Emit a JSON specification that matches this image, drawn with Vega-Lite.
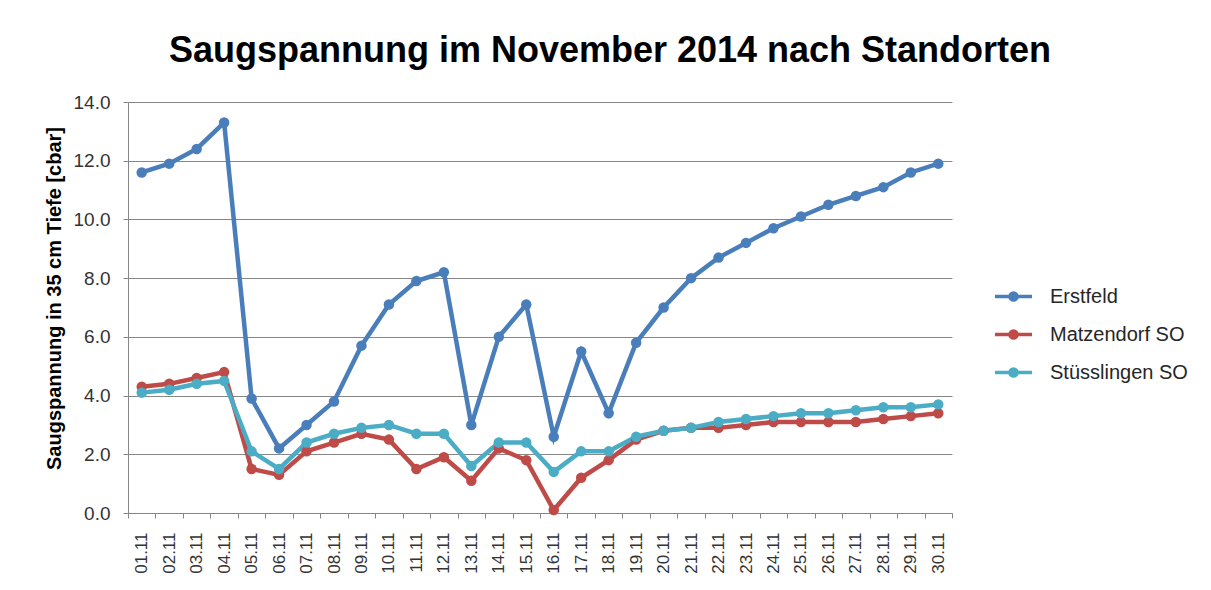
{
  "$schema": "https://vega.github.io/schema/vega-lite/v6.json",
  "autosize": "none",
  "width": 824,
  "height": 411,
  "padding": {"left": 128, "top": 102, "right": 259, "bottom": 77},
  "background": "white",
  "title": {
    "text": "Saugspannung im November 2014 nach Standorten",
    "font": "Liberation Sans",
    "fontSize": 36,
    "fontWeight": "bold",
    "color": "#000000",
    "anchor": "middle",
    "dx": 70,
    "dy": 35,
    "offset": 30,
    "baseline": "alphabetic"
  },
  "data": {
    "values": [
      {"date": "01.11", "station": "Erstfeld", "value": 11.6},
      {"date": "02.11", "station": "Erstfeld", "value": 11.9},
      {"date": "03.11", "station": "Erstfeld", "value": 12.4},
      {"date": "04.11", "station": "Erstfeld", "value": 13.3},
      {"date": "05.11", "station": "Erstfeld", "value": 3.9},
      {"date": "06.11", "station": "Erstfeld", "value": 2.2},
      {"date": "07.11", "station": "Erstfeld", "value": 3.0},
      {"date": "08.11", "station": "Erstfeld", "value": 3.8},
      {"date": "09.11", "station": "Erstfeld", "value": 5.7},
      {"date": "10.11", "station": "Erstfeld", "value": 7.1},
      {"date": "11.11", "station": "Erstfeld", "value": 7.9},
      {"date": "12.11", "station": "Erstfeld", "value": 8.2},
      {"date": "13.11", "station": "Erstfeld", "value": 3.0},
      {"date": "14.11", "station": "Erstfeld", "value": 6.0},
      {"date": "15.11", "station": "Erstfeld", "value": 7.1},
      {"date": "16.11", "station": "Erstfeld", "value": 2.6},
      {"date": "17.11", "station": "Erstfeld", "value": 5.5},
      {"date": "18.11", "station": "Erstfeld", "value": 3.4},
      {"date": "19.11", "station": "Erstfeld", "value": 5.8},
      {"date": "20.11", "station": "Erstfeld", "value": 7.0},
      {"date": "21.11", "station": "Erstfeld", "value": 8.0},
      {"date": "22.11", "station": "Erstfeld", "value": 8.7},
      {"date": "23.11", "station": "Erstfeld", "value": 9.2},
      {"date": "24.11", "station": "Erstfeld", "value": 9.7},
      {"date": "25.11", "station": "Erstfeld", "value": 10.1},
      {"date": "26.11", "station": "Erstfeld", "value": 10.5},
      {"date": "27.11", "station": "Erstfeld", "value": 10.8},
      {"date": "28.11", "station": "Erstfeld", "value": 11.1},
      {"date": "29.11", "station": "Erstfeld", "value": 11.6},
      {"date": "30.11", "station": "Erstfeld", "value": 11.9},
      {"date": "01.11", "station": "Matzendorf SO", "value": 4.3},
      {"date": "02.11", "station": "Matzendorf SO", "value": 4.4},
      {"date": "03.11", "station": "Matzendorf SO", "value": 4.6},
      {"date": "04.11", "station": "Matzendorf SO", "value": 4.8},
      {"date": "05.11", "station": "Matzendorf SO", "value": 1.5},
      {"date": "06.11", "station": "Matzendorf SO", "value": 1.3},
      {"date": "07.11", "station": "Matzendorf SO", "value": 2.1},
      {"date": "08.11", "station": "Matzendorf SO", "value": 2.4},
      {"date": "09.11", "station": "Matzendorf SO", "value": 2.7},
      {"date": "10.11", "station": "Matzendorf SO", "value": 2.5},
      {"date": "11.11", "station": "Matzendorf SO", "value": 1.5},
      {"date": "12.11", "station": "Matzendorf SO", "value": 1.9},
      {"date": "13.11", "station": "Matzendorf SO", "value": 1.1},
      {"date": "14.11", "station": "Matzendorf SO", "value": 2.2},
      {"date": "15.11", "station": "Matzendorf SO", "value": 1.8},
      {"date": "16.11", "station": "Matzendorf SO", "value": 0.1},
      {"date": "17.11", "station": "Matzendorf SO", "value": 1.2},
      {"date": "18.11", "station": "Matzendorf SO", "value": 1.8},
      {"date": "19.11", "station": "Matzendorf SO", "value": 2.5},
      {"date": "20.11", "station": "Matzendorf SO", "value": 2.8},
      {"date": "21.11", "station": "Matzendorf SO", "value": 2.9},
      {"date": "22.11", "station": "Matzendorf SO", "value": 2.9},
      {"date": "23.11", "station": "Matzendorf SO", "value": 3.0},
      {"date": "24.11", "station": "Matzendorf SO", "value": 3.1},
      {"date": "25.11", "station": "Matzendorf SO", "value": 3.1},
      {"date": "26.11", "station": "Matzendorf SO", "value": 3.1},
      {"date": "27.11", "station": "Matzendorf SO", "value": 3.1},
      {"date": "28.11", "station": "Matzendorf SO", "value": 3.2},
      {"date": "29.11", "station": "Matzendorf SO", "value": 3.3},
      {"date": "30.11", "station": "Matzendorf SO", "value": 3.4},
      {"date": "01.11", "station": "Stüsslingen SO", "value": 4.1},
      {"date": "02.11", "station": "Stüsslingen SO", "value": 4.2},
      {"date": "03.11", "station": "Stüsslingen SO", "value": 4.4},
      {"date": "04.11", "station": "Stüsslingen SO", "value": 4.5},
      {"date": "05.11", "station": "Stüsslingen SO", "value": 2.1},
      {"date": "06.11", "station": "Stüsslingen SO", "value": 1.5},
      {"date": "07.11", "station": "Stüsslingen SO", "value": 2.4},
      {"date": "08.11", "station": "Stüsslingen SO", "value": 2.7},
      {"date": "09.11", "station": "Stüsslingen SO", "value": 2.9},
      {"date": "10.11", "station": "Stüsslingen SO", "value": 3.0},
      {"date": "11.11", "station": "Stüsslingen SO", "value": 2.7},
      {"date": "12.11", "station": "Stüsslingen SO", "value": 2.7},
      {"date": "13.11", "station": "Stüsslingen SO", "value": 1.6},
      {"date": "14.11", "station": "Stüsslingen SO", "value": 2.4},
      {"date": "15.11", "station": "Stüsslingen SO", "value": 2.4},
      {"date": "16.11", "station": "Stüsslingen SO", "value": 1.4},
      {"date": "17.11", "station": "Stüsslingen SO", "value": 2.1},
      {"date": "18.11", "station": "Stüsslingen SO", "value": 2.1},
      {"date": "19.11", "station": "Stüsslingen SO", "value": 2.6},
      {"date": "20.11", "station": "Stüsslingen SO", "value": 2.8},
      {"date": "21.11", "station": "Stüsslingen SO", "value": 2.9},
      {"date": "22.11", "station": "Stüsslingen SO", "value": 3.1},
      {"date": "23.11", "station": "Stüsslingen SO", "value": 3.2},
      {"date": "24.11", "station": "Stüsslingen SO", "value": 3.3},
      {"date": "25.11", "station": "Stüsslingen SO", "value": 3.4},
      {"date": "26.11", "station": "Stüsslingen SO", "value": 3.4},
      {"date": "27.11", "station": "Stüsslingen SO", "value": 3.5},
      {"date": "28.11", "station": "Stüsslingen SO", "value": 3.6},
      {"date": "29.11", "station": "Stüsslingen SO", "value": 3.6},
      {"date": "30.11", "station": "Stüsslingen SO", "value": 3.7}
    ]
  },
  "encoding": {
    "x": {
      "field": "date",
      "type": "ordinal",
      "sort": null,
      "scale": {"paddingInner": 0, "paddingOuter": 0},
      "axis": {
        "title": null,
        "labelAngle": -90,
        "labelFontSize": 17,
        "labelFont": "Liberation Sans",
        "labelColor": "#333333",
        "labelPadding": 14,
        "tickSize": 5,
        "tickBand": "extent",
        "tickColor": "#868686",
        "domainColor": "#868686",
        "grid": false
      }
    },
    "y": {
      "field": "value",
      "type": "quantitative",
      "scale": {"domain": [0, 14], "nice": false, "zero": true},
      "axis": {
        "values": [0, 2, 4, 6, 8, 10, 12, 14],
        "format": ".1f",
        "labelFontSize": 19,
        "labelFont": "Liberation Sans",
        "labelColor": "#333333",
        "labelPadding": 13,
        "tickSize": 5,
        "tickColor": "#868686",
        "domainColor": "#868686",
        "grid": true,
        "gridColor": "#868686",
        "title": "Saugspannung in 35 cm Tiefe [cbar]",
        "titleFont": "Liberation Sans",
        "titleFontSize": 20,
        "titleFontWeight": "bold",
        "titleColor": "#000000",
        "titlePadding": 9,
        "titleY": 196
      }
    },
    "color": {
      "field": "station",
      "type": "nominal",
      "scale": {
        "domain": ["Erstfeld", "Matzendorf SO", "Stüsslingen SO"],
        "range": ["#4A7EBB", "#BE4B48", "#4BACC6"]
      },
      "legend": {
        "title": null,
        "orient": "none",
        "legendX": 865,
        "legendY": 174,
        "padding": 0,
        "labelFont": "Liberation Sans",
        "labelFontSize": 20,
        "labelColor": "#262626",
        "labelOffset": 16,
        "rowPadding": 6,
        "symbolType": "M-1,0H1M-0.19,0A0.19,0.19,0,1,0,0.19,0A0.19,0.19,0,1,0,-0.19,0",
        "symbolSize": 1369,
        "symbolStrokeWidth": 3,
        "encode": {
          "symbols": {
            "update": {
              "fill": {"scale": "color", "field": "value"},
              "fillOpacity": {"value": 1},
              "stroke": {"scale": "color", "field": "value"},
              "strokeWidth": {"value": 3.5}
            }
          }
        }
      }
    }
  },
  "layer": [
    {"mark": {"type": "line", "strokeWidth": 4.5}},
    {"mark": {"type": "circle", "size": 110, "opacity": 1}}
  ],
  "config": {
    "view": {"stroke": null}
  }
}
